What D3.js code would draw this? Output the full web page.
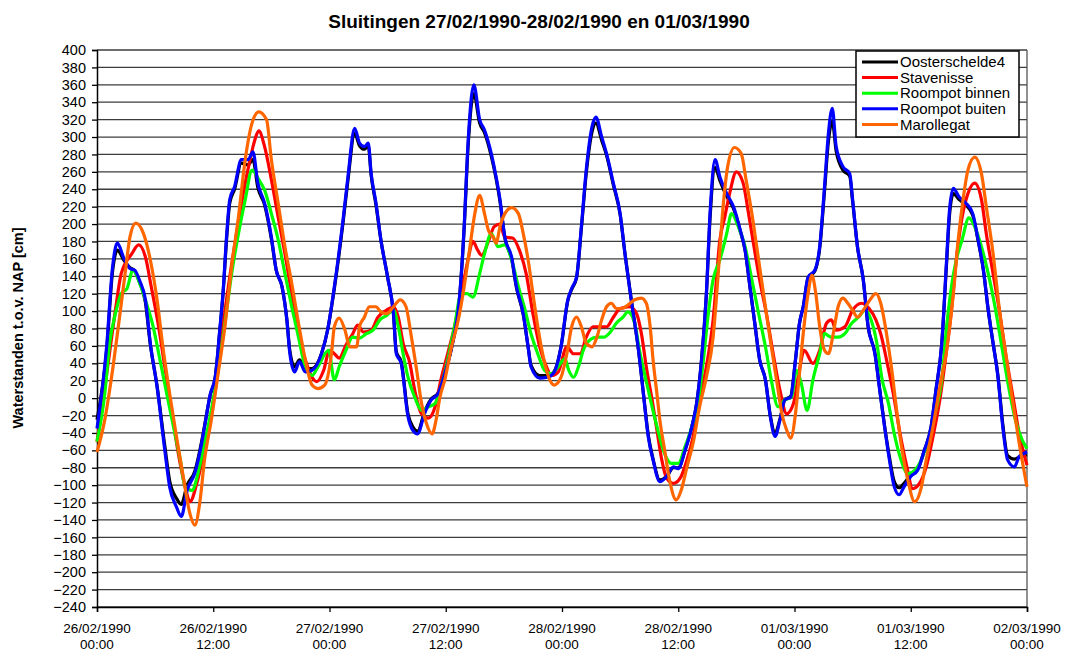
<!DOCTYPE html>
<html>
<head>
<meta charset="utf-8">
<script src="https://cdn.jsdelivr.net/npm/d3@7"></script>
<style>
  body { margin: 0; background: #fff; }
  svg { font-family: "Liberation Sans", Arial, sans-serif; }
</style>
</head>
<body>
<svg width="1069" height="652"></svg>
<script>
// water levels in cm vs NAP, [hours since 26/02/1990 00:00, value]
var oosterschelde4 = [[0,-25],[1.0,55],[1.6,145],[2.1,170],[2.8,158],[3.4,150],[3.9,146],[4.4,133],[5.0,110],[5.5,62],[6.2,14],[7.0,-55],[7.5,-95],[8.2,-115],[8.7,-122],[9.3,-100],[10.1,-84],[10.8,-50],[11.1,-32],[11.7,4],[12.2,24],[12.7,80],[13.0,118],[13.4,186],[13.7,224],[14.2,240],[14.9,270],[15.6,268],[16.1,274],[16.6,242],[17.3,222],[18.0,183],[18.5,147],[19.1,128],[19.6,90],[19.9,55],[20.4,36],[20.9,44],[21.5,34],[22.2,34],[23.2,52],[23.8,78],[24.5,126],[25.4,202],[25.9,250],[26.6,304],[27.1,290],[27.6,286],[28.0,290],[28.3,256],[28.8,222],[29.3,182],[30.0,139],[30.6,97],[30.9,53],[31.4,42],[32.1,-18],[32.6,-33],[33.1,-38],[33.8,-16],[34.5,-1],[35.2,6],[35.9,28],[36.7,63],[37.4,112],[37.9,195],[38.3,288],[38.9,350],[39.5,316],[40.0,305],[40.7,278],[41.2,252],[41.6,226],[42.1,184],[42.8,160],[43.3,127],[44.0,96],[44.5,59],[44.8,38],[45.7,26],[46.5,26],[47.2,31],[47.9,59],[48.6,112],[49.0,125],[49.5,138],[50.0,195],[50.5,258],[51.1,306],[51.5,316],[52.1,296],[52.6,279],[53.3,245],[54.0,211],[54.5,166],[55.2,109],[55.9,55],[56.4,6],[56.9,-42],[57.4,-70],[58.1,-94],[58.8,-90],[59.5,-80],[60.0,-80],[60.7,-60],[61.4,-33],[61.9,-6],[62.4,43],[62.9,118],[63.3,210],[63.8,265],[64.3,250],[65.0,232],[65.7,218],[66.4,192],[66.9,170],[67.4,128],[67.9,86],[68.4,44],[69.0,21],[69.5,-20],[70.0,-40],[70.5,-24],[71.0,-2],[71.6,2],[72.1,44],[72.5,85],[72.9,105],[73.4,138],[74.1,146],[74.6,172],[75.1,238],[75.5,295],[75.9,318],[76.3,284],[77.0,262],[77.7,255],[78.0,226],[78.5,174],[79.1,136],[79.6,82],[80.3,52],[80.8,10],[81.3,-32],[81.8,-68],[82.3,-96],[82.8,-103],[83.3,-98],[84.0,-88],[84.7,-82],[85.4,-60],[86.1,-33],[86.6,9],[87.2,62],[87.7,155],[88.0,210],[88.4,235],[89.0,228],[89.7,222],[90.4,210],[90.9,184],[91.5,147],[92.0,101],[92.5,63],[93.0,26],[93.5,-30],[94.0,-66],[94.7,-70],[95.2,-68],[96,-65]];

var stavenisse = [[0,-50],[0.6,-5],[1.2,44],[1.9,101],[2.5,143],[3.6,166],[4.3,176],[5.0,162],[5.6,128],[6.3,86],[7.0,36],[7.7,-14],[8.4,-64],[9.1,-102],[9.6,-119],[10.3,-98],[11.0,-64],[11.7,-25],[12.4,24],[13.0,82],[13.7,139],[14.4,189],[15.1,235],[15.8,274],[16.3,297],[16.7,307],[17.3,289],[18.0,251],[18.7,208],[19.4,166],[20.1,120],[20.8,74],[21.5,44],[22.2,24],[22.7,19],[23.4,32],[24.0,55],[24.5,51],[25.0,46],[25.7,61],[26.4,74],[26.9,84],[27.5,76],[28.3,78],[29.0,93],[29.9,101],[30.6,105],[31.1,93],[31.6,63],[32.3,40],[32.8,9],[33.5,-18],[34.2,-23],[34.9,-10],[35.5,21],[36.2,51],[36.9,82],[37.6,120],[38.3,159],[38.8,180],[39.3,170],[39.7,164],[40.4,180],[41.0,197],[41.6,200],[42.1,185],[42.9,184],[43.6,170],[44.3,143],[45.0,97],[45.7,59],[46.4,36],[46.9,26],[47.6,30],[48.5,59],[49.2,51],[49.9,51],[50.5,70],[51.2,82],[51.9,82],[52.6,82],[53.3,93],[54.0,103],[55.0,105],[55.7,97],[56.2,74],[56.7,36],[57.3,-2],[57.8,-37],[58.3,-71],[58.8,-92],[59.5,-98],[60.2,-92],[60.9,-71],[61.6,-41],[62.2,-2],[62.9,36],[63.6,90],[64.3,182],[64.8,208],[65.3,235],[66.0,260],[66.7,247],[67.2,216],[67.7,182],[68.4,136],[69.1,97],[69.8,51],[70.5,9],[71.2,-18],[71.9,-6],[72.5,32],[73.0,55],[73.9,40],[74.6,55],[75.3,86],[75.8,90],[76.3,78],[77.2,82],[78.0,101],[78.9,109],[79.7,103],[80.4,90],[80.9,74],[81.5,44],[82.2,5],[82.9,-41],[83.6,-79],[84.2,-104],[84.9,-98],[85.6,-79],[86.3,-44],[87.0,-2],[87.7,55],[88.2,101],[88.7,159],[89.3,208],[89.9,235],[90.6,247],[91.3,228],[91.8,189],[92.5,143],[93.2,97],[93.8,51],[94.5,5],[95.2,-41],[96,-77]];

var roompotBinnen = [[0,-50],[0.8,5],[1.3,63],[1.9,97],[2.5,120],[3.1,126],[3.7,147],[4.4,132],[5.1,109],[5.8,82],[6.5,44],[7.2,5],[7.9,-33],[8.6,-71],[9.1,-102],[9.8,-106],[10.5,-83],[11.1,-52],[11.8,-14],[12.5,32],[13.2,86],[13.9,143],[14.6,189],[15.3,228],[16.0,262],[16.7,251],[17.3,239],[18.0,212],[18.7,182],[19.4,143],[20.1,105],[20.8,70],[21.5,36],[22.2,26],[22.8,36],[23.9,55],[24.5,21],[25.0,36],[25.7,55],[26.4,70],[27.1,69],[27.8,74],[28.5,78],[29.2,90],[29.9,95],[30.6,101],[31.1,82],[31.6,51],[32.1,24],[32.8,1],[33.5,-14],[34.2,-10],[34.9,-6],[35.5,13],[36.2,44],[36.9,82],[37.6,120],[38.2,120],[38.8,116],[39.5,143],[40.0,166],[40.7,189],[41.4,174],[42.1,176],[42.8,159],[43.5,128],[44.1,105],[44.8,74],[45.5,51],[46.2,32],[46.9,28],[47.6,36],[48.3,45],[48.7,32],[49.2,24],[49.7,36],[50.2,55],[50.9,67],[51.6,70],[52.3,70],[53.0,76],[53.6,86],[54.3,93],[54.8,99],[55.5,86],[56.0,55],[56.6,24],[57.3,-10],[57.9,-37],[58.6,-64],[59.3,-75],[60.0,-75],[60.7,-56],[61.4,-33],[62.1,-2],[62.6,44],[63.1,97],[63.6,136],[64.3,159],[65.0,189],[65.5,212],[66.2,197],[66.9,174],[67.6,136],[68.3,97],[69.0,59],[69.6,21],[70.3,-10],[71.0,-2],[71.7,1],[72.2,32],[72.7,17],[73.3,-14],[73.9,21],[74.6,51],[75.1,74],[75.8,70],[76.5,70],[77.2,74],[77.9,86],[78.6,93],[79.3,101],[79.9,90],[80.5,63],[81.0,24],[81.7,-6],[82.3,-41],[83.0,-71],[83.7,-87],[84.4,-83],[85.1,-71],[85.8,-48],[86.5,-18],[87.2,21],[87.7,82],[88.2,128],[88.7,159],[89.3,182],[90.0,207],[90.6,197],[91.3,174],[92.0,143],[92.7,105],[93.4,59],[94.1,13],[94.8,-25],[95.5,-48],[96,-58]];

var roompotBuiten = [[0,-35],[1.0,60],[1.6,150],[2.1,178],[2.8,160],[3.4,149],[3.9,147],[4.4,135],[5.0,113],[5.5,63],[6.2,13],[7.0,-60],[7.5,-102],[8.2,-125],[8.7,-136],[9.3,-106],[10.1,-86],[10.8,-52],[11.1,-33],[11.7,5],[12.2,24],[12.7,82],[13.0,120],[13.4,190],[13.7,228],[14.2,243],[14.9,274],[15.6,274],[16.1,283],[16.6,247],[17.3,224],[18.0,185],[18.5,147],[19.1,128],[19.6,90],[19.9,52],[20.4,30],[20.9,42],[21.5,30],[22.2,32],[23.2,52],[23.8,78],[24.5,128],[25.4,205],[25.9,254],[26.6,310],[27.1,293],[27.6,289],[28.0,293],[28.3,258],[28.8,224],[29.3,182],[30.0,139],[30.6,97],[30.9,51],[31.4,40],[32.1,-21],[32.6,-37],[33.1,-41],[33.8,-18],[34.5,-2],[35.2,5],[35.9,28],[36.7,63],[37.4,113],[37.9,197],[38.3,293],[38.9,360],[39.5,320],[40.0,308],[40.7,281],[41.2,254],[41.6,228],[42.1,185],[42.8,162],[43.3,128],[44.0,97],[44.5,59],[44.8,36],[45.7,23],[46.5,24],[47.2,30],[47.9,59],[48.6,113],[49.0,126],[49.5,139],[50.0,197],[50.5,262],[51.1,312],[51.5,323],[52.1,300],[52.6,281],[53.3,247],[54.0,212],[54.5,166],[55.2,109],[55.9,55],[56.4,5],[56.9,-44],[57.4,-71],[58.1,-96],[58.8,-90],[59.5,-79],[60.0,-81],[60.7,-60],[61.4,-33],[61.9,-6],[62.4,44],[62.9,120],[63.3,216],[63.8,274],[64.3,254],[65.0,235],[65.7,220],[66.4,193],[66.9,170],[67.4,128],[67.9,86],[68.4,44],[69.0,21],[69.5,-21],[70.0,-44],[70.5,-25],[71.0,-2],[71.6,1],[72.1,44],[72.5,85],[72.9,105],[73.4,139],[74.1,147],[74.6,174],[75.1,243],[75.5,304],[75.9,333],[76.3,289],[77.0,266],[77.7,258],[78.0,228],[78.5,174],[79.1,136],[79.6,82],[80.3,51],[80.8,9],[81.3,-33],[81.8,-71],[82.3,-102],[82.8,-111],[83.3,-102],[84.0,-90],[84.7,-83],[85.4,-60],[86.1,-33],[86.6,9],[87.2,63],[87.7,159],[88.0,216],[88.4,241],[89.0,231],[89.7,224],[90.4,212],[90.9,185],[91.5,147],[92.0,101],[92.5,63],[93.0,24],[93.5,-33],[94.0,-71],[94.7,-79],[95.2,-67],[96,-62]];

var marollegat = [[0,-62],[0.8,-25],[1.5,24],[2.2,82],[2.9,143],[3.4,185],[4.0,201],[4.8,189],[5.5,159],[6.2,113],[6.8,59],[7.5,5],[8.2,-44],[8.9,-90],[9.6,-133],[10.1,-146],[10.6,-121],[11.1,-71],[11.8,-25],[12.5,28],[13.2,82],[13.9,151],[14.6,208],[15.3,274],[16.0,316],[16.7,329],[17.5,320],[18.0,274],[18.7,224],[19.4,174],[20.1,132],[20.8,86],[21.5,44],[22.2,15],[22.8,11],[23.5,15],[24.2,51],[24.5,82],[25.0,92],[25.6,78],[26.1,59],[26.8,59],[27.1,82],[27.6,93],[28.1,105],[28.8,105],[29.3,99],[29.9,97],[30.6,105],[31.3,113],[31.9,105],[32.4,74],[33.0,32],[33.5,-6],[34.0,-29],[34.6,-41],[35.0,-25],[35.4,1],[35.9,21],[36.6,59],[37.3,90],[37.9,128],[38.5,174],[39.0,212],[39.5,233],[40.0,212],[40.4,193],[40.9,185],[41.2,178],[41.6,197],[42.1,212],[42.8,219],[43.5,212],[44.0,189],[44.5,159],[45.0,120],[45.5,82],[46.0,51],[46.5,28],[47.2,15],[47.9,24],[48.5,51],[49.0,82],[49.5,93],[50.0,82],[50.5,63],[51.1,59],[51.6,70],[52.1,90],[52.6,105],[53.1,109],[53.6,103],[54.2,103],[54.8,107],[55.5,113],[56.2,115],[56.7,109],[57.1,82],[57.4,44],[57.8,5],[58.1,-25],[58.6,-60],[59.1,-94],[59.8,-117],[60.3,-106],[60.9,-79],[61.6,-48],[62.2,-10],[62.9,24],[63.6,70],[64.1,139],[64.6,216],[65.1,266],[65.8,288],[66.5,281],[67.0,251],[67.6,212],[68.1,174],[68.8,120],[69.5,67],[70.2,17],[70.7,-18],[71.2,-37],[71.6,-46],[72.1,-18],[72.4,15],[72.9,74],[73.4,120],[73.8,141],[74.2,120],[74.6,82],[75.1,55],[75.5,51],[76.0,74],[76.5,105],[77.0,115],[77.5,109],[78.0,101],[78.5,93],[79.1,101],[79.8,113],[80.4,120],[80.9,109],[81.5,74],[82.0,36],[82.5,-10],[83.0,-52],[83.7,-94],[84.4,-119],[85.1,-102],[85.6,-71],[86.3,-33],[87.0,13],[87.7,55],[88.4,120],[88.9,182],[89.4,228],[89.9,262],[90.6,277],[91.3,258],[91.8,220],[92.5,166],[93.2,97],[93.8,51],[94.5,-2],[95.2,-52],[96,-102]];

var seriesNames = ["Oosterschelde4", "Stavenisse", "Roompot binnen", "Roompot buiten", "Marollegat"];
var seriesColours = ["#000000", "#ff0000", "#00ff00", "#0000ff", "#ff6600"];
var seriesData = [oosterschelde4, stavenisse, roompotBinnen, roompotBuiten, marollegat];

var xTickHours = [0, 12, 24, 36, 48, 60, 72, 84, 96];
var xTickDates = ["26/02/1990", "26/02/1990", "27/02/1990", "27/02/1990", "28/02/1990", "28/02/1990", "01/03/1990", "01/03/1990", "02/03/1990"];
var xTickTimes = ["00:00", "12:00", "00:00", "12:00", "00:00", "12:00", "00:00", "12:00", "00:00"];
var yTicks = d3.range(-240, 401, 20);

// plot box (window.top is reserved, so own names)
var svg = d3.select("svg"),
    plotLeft = 97, plotRight = 1027, plotTop = 50, plotBottom = 607;

var x = d3.scaleLinear().domain([0, 96]).range([plotLeft, plotRight]);
var y = d3.scaleLinear().domain([-240, 400]).range([plotBottom, plotTop]);

// title
svg.append("text")
    .attr("x", 539).attr("y", 28)
    .attr("text-anchor", "middle")
    .style("font-size", "19px").style("font-weight", "bold")
    .text("Sluitingen 27/02/1990-28/02/1990 en 01/03/1990");

// y axis title
svg.append("text")
    .attr("transform", "translate(23,328) rotate(-90)")
    .attr("text-anchor", "middle")
    .style("font-size", "14.5px").style("font-weight", "bold")
    .text("Waterstanden t.o.v. NAP [cm]");

// horizontal gridlines
svg.append("g").selectAll("line")
    .data(yTicks)
    .enter().append("line")
    .attr("x1", plotLeft).attr("x2", plotRight)
    .attr("y1", function (d) { return y(d); })
    .attr("y2", function (d) { return y(d); })
    .attr("stroke", "#3c3c3c")
    .attr("stroke-width", 1.3);

// right border
svg.append("line")
    .attr("x1", plotRight).attr("x2", plotRight).attr("y1", plotTop).attr("y2", plotBottom)
    .attr("stroke", "#555").attr("stroke-width", 1.3);

// y axis
var yAxis = svg.append("g")
    .attr("transform", "translate(" + plotLeft + ",0)")
    .call(d3.axisLeft(y).tickValues(yTicks).tickSize(5).tickPadding(6));
yAxis.select(".domain").attr("stroke", "#000").attr("stroke-width", 1.5);
yAxis.selectAll(".tick line").attr("stroke", "#000").attr("stroke-width", 1.3);
yAxis.selectAll("text")
    .style("font-size", "14.5px").style("font-family", "Liberation Sans, Arial, sans-serif")
    .attr("fill", "#000");

// x axis
var xAxis = svg.append("g")
    .attr("transform", "translate(0," + plotBottom + ")")
    .call(d3.axisBottom(x).tickValues(xTickHours).tickSize(5).tickFormat(""));
xAxis.select(".domain").attr("stroke", "#000").attr("stroke-width", 1.5);
xAxis.selectAll(".tick line").attr("stroke", "#000").attr("stroke-width", 1.3);

var xLabels = svg.append("g").selectAll("text")
    .data(xTickHours)
    .enter().append("text")
    .attr("x", function (d) { return x(d); })
    .attr("y", 633)
    .attr("text-anchor", "middle")
    .style("font-size", "13.5px");
xLabels.append("tspan")
    .attr("x", function (d) { return x(d); })
    .text(function (d, i) { return xTickDates[i]; });
xLabels.append("tspan")
    .attr("x", function (d) { return x(d); })
    .attr("dy", 16)
    .text(function (d, i) { return xTickTimes[i]; });

// series lines
var line = d3.line()
    .x(function (d) { return x(d[0]); })
    .y(function (d) { return y(d[1]); })
    .curve(d3.curveMonotoneX);

svg.append("g").selectAll("path")
    .data(seriesData)
    .enter().append("path")
    .attr("d", line)
    .attr("fill", "none")
    .attr("stroke", function (d, i) { return seriesColours[i]; })
    .attr("stroke-width", 3.2)
    .attr("stroke-linejoin", "round");

// legend
var legend = svg.append("g").attr("transform", "translate(856,51)");
legend.append("rect")
    .attr("width", 163).attr("height", 86)
    .attr("fill", "#fff").attr("stroke", "#000").attr("stroke-width", 1.5);

var items = legend.selectAll(".item")
    .data(seriesNames)
    .enter().append("g")
    .attr("class", "item")
    .attr("transform", function (d, i) { return "translate(0," + (11 + i * 15.6) + ")"; });
items.append("line")
    .attr("x1", 6).attr("x2", 42)
    .attr("stroke", function (d, i) { return seriesColours[i]; })
    .attr("stroke-width", 3);
items.append("text")
    .attr("x", 44).attr("dy", "0.35em")
    .style("font-size", "15px")
    .text(function (d) { return d; });
</script>
</body>
</html>
